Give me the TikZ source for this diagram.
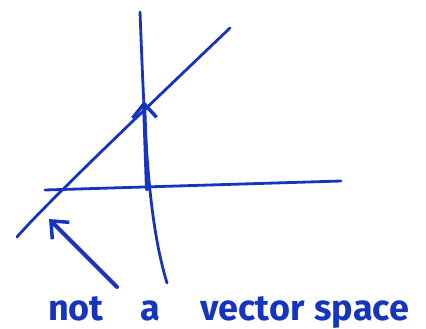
\documentclass[tikz,border=0pt]{standalone}
\usepackage{fontspec}
\setmainfont{Fira Sans}
\usetikzlibrary{arrows.meta}
\definecolor{ink}{RGB}{22,52,190}
\begin{document}
\begin{tikzpicture}[x=1pt,y=-1pt,
  pen/.style={draw=ink,line width=2.8pt,line cap=round,line join=round},
  thick pen/.style={draw=ink,line width=4pt,line cap=round,line join=round},
  barb/.style={-{Straight Barb[length=14pt,width=24pt,line width=3.5pt]}}]
\useasboundingbox (0,0) rectangle (426,329);
% axes
\coordinate (vt) at (140,12);
\coordinate (vb) at (167,283);
\coordinate (hl) at (45,190);
\coordinate (hr) at (341,181);
\coordinate (dl) at (17,237);
\coordinate (dr) at (230,28);
\coordinate (o) at (147,189);
\coordinate (p) at (144,101);
\coordinate (at) at (117,287);
\coordinate (ah) at (49,219);
\draw[pen] (vt) .. controls (145,140) and (148,220) .. (vb);
\draw[pen] (hl) -- (hr);
\draw[pen] (dl) .. controls (30,222) and (60,190) .. (dr);
% vector
\draw[thick pen,barb] (o) -- (p);
% pointer arrow
\draw[thick pen,barb] (at) -- (ah);
\node[text=ink,font=\fontsize{36}{36}\selectfont\bfseries,anchor=base west,inner sep=0pt] (lab) at (48,320) {not\hspace{37pt}a\hspace{40pt}vector\hspace{10pt}space};
\end{tikzpicture}
\end{document}
